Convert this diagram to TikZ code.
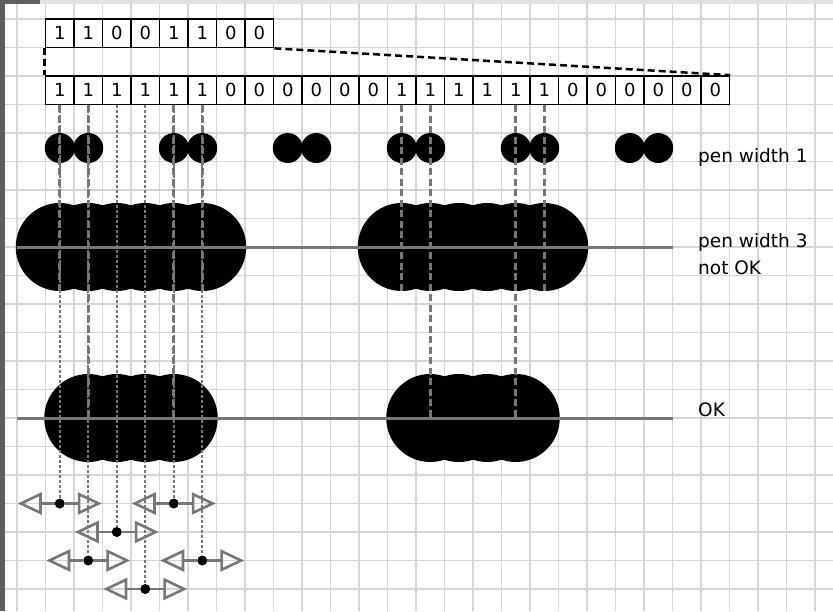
\documentclass[tikz,border=0pt]{standalone}
\usepackage{fontspec}
\setmainfont{DejaVu Sans}
\usetikzlibrary{arrows.meta}
\definecolor{gridc}{HTML}{D6D6D6}
\definecolor{linec}{HTML}{777777}
\definecolor{chromedark}{HTML}{5E5E5E}
\definecolor{chromelight}{HTML}{E2E2E2}
\begin{document}
\begin{tikzpicture}[x=1pt,y=-1pt,
  cell/.style={draw=black,line width=1.7pt,minimum width=28.5pt,minimum height=28.5pt,inner sep=0pt,font=\fontsize{18}{18}\selectfont},
  pen1/.style={circle,fill=black,minimum size=30pt,inner sep=0pt},
  pen3/.style={circle,fill=black,minimum size=88pt,inner sep=0pt},
  gridline/.style={gridc,line width=1.6pt},
  vdash/.style={linec,line width=3pt,dash pattern=on 7pt off 3.5pt},
  vdot/.style={linec,line width=2pt,dash pattern=on 2.5pt off 2.5pt},
  hline/.style={linec,line width=3pt},
  boxdash/.style={black,line width=2.5pt,dash pattern=on 7pt off 4pt},
  dotnode/.style={circle,fill=black,minimum size=10pt,inner sep=0pt},
  arr/.style={linec,line width=2.6pt,-{Triangle[open,length=24pt,width=22pt]}},
  lbl/.style={anchor=base west,font=\fontsize{18.5}{22}\selectfont,inner sep=0pt}]
\useasboundingbox (0,0) rectangle (833,611);
\fill[white] (0,0) rectangle (833,611);
% grid
\foreach \k in {0,...,28} \draw[gridline] ({17+28.5*\k},4) -- ({17+28.5*\k},611);
\foreach \k in {0,...,20} \draw[gridline] (5,{19+28.5*\k}) -- (833,{19+28.5*\k});
% window chrome
\fill[chromelight] (0,0) rectangle (833,3.5);
\fill[chromedark] (0,0) rectangle (40,3.5);
\fill[chromedark] (0,0) rectangle (4.5,611);
% bit rows
\foreach \b [count=\i from 0] in {1,1,0,0,1,1,0,0}
  \node[cell] (t\i) at ({59.75+28.5*\i},33.25) {\b};
\foreach \b [count=\i from 0] in {1,1,1,1,1,1,0,0,0,0,0,0,1,1,1,1,1,1,0,0,0,0,0,0}
  \node[cell] (b\i) at ({59.75+28.5*\i},90.25) {\b};
\draw[boxdash] (t0.south west) -- (b0.north west);
\draw[boxdash] (t7.south east) -- (b23.north east);
% pen width 1
\foreach \p in {0,1,4,5,8,9,12,13,16,17,20,21}
  \node[pen1] (c\p) at ({59.75+28.5*\p},148) {};
% pen width 3
\foreach \p in {0,1,2,3,4,5,12,13,14,15,16,17}
  \node[pen3] (w\p) at ({59.75+28.5*\p},247) {};
% OK
\foreach \p in {1,2,3,4,13,14,15,16}
  \node[pen3] (o\p) at ({59.75+28.5*\p},418) {};
% arrow dots
\foreach \p/\y in {0/503.5,1/560.5,2/532,3/589,4/503.5,5/560.5} {
  \node[dotnode] (d\p) at ({59.75+28.5*\p},\y) {};
  \coordinate (aL\p) at ({59.75+28.5*\p-42},\y);
  \coordinate (aR\p) at ({59.75+28.5*\p+42},\y);
}
% vertical lines
\foreach \p in {0,...,5} \draw[vdot] (b\p.south) -- (d\p);
\foreach \p in {0,5,12,17} \draw[vdash] (b\p.south) -- (w\p.south);
\foreach \p in {1,4,13,16} \draw[vdash] (b\p.south) -- (o\p.center);
% horizontal lines
\coordinate (h1l) at (17,247); \coordinate (h1r) at (672.5,247);
\coordinate (h2l) at (17,418); \coordinate (h2r) at (672.5,418);
\draw[hline] (h1l) -- (h1r);
\draw[hline] (h2l) -- (h2r);
% arrows
\foreach \p in {0,...,5} {
  \draw[arr] (d\p) -- (aL\p);
  \draw[arr] (d\p) -- (aR\p);
}
% labels
\node[lbl] (l1) at (698,162.3) {pen width 1};
\node[lbl] (l3) at (698,247.3) {pen width 3};
\node[lbl] (l4) at (698,274) {not OK};
\node[lbl] (l5) at (698,416) {OK};
\end{tikzpicture}
\end{document}
